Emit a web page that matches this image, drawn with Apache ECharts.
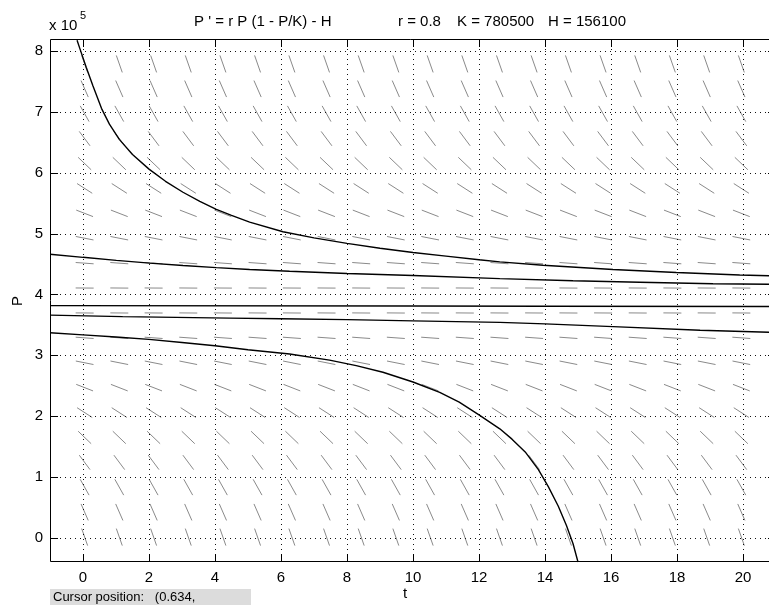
<!DOCTYPE html>
<html>
<head>
<meta charset="utf-8">
<script src="https://cdn.jsdelivr.net/npm/echarts@6/dist/echarts.min.js"></script>
<style>
  html, body { margin: 0; padding: 0; background: #fff; }
  #chart { width: 769px; height: 605px; }
</style>
</head>
<body>
<div id="chart"></div>
<script>
// ---- axis ticks ----
const xTicks = [0, 2, 4, 6, 8, 10, 12, 14, 16, 18, 20];
const yTicks = [0, 100000, 200000, 300000, 400000, 500000, 600000, 700000, 800000];
const xRange = [-1, 21];
const yRange = [-40000, 820000];

// ---- direction field sample points ----
const fieldT = [0.05, 1.1, 2.14, 3.19, 4.24, 5.29, 6.33, 7.38, 8.43, 9.48,
                10.52, 11.57, 12.62, 13.67, 14.71, 15.76, 16.81, 17.86, 18.9, 19.95];
const fieldP = [950, 41900, 82900, 123800, 164800, 205700, 246700, 287600, 328600, 369500,
                410500, 451400, 492400, 533300, 574300, 615200, 656200, 697100, 738100, 779000];
// slope dP/dt of each row of segments
const fieldSlope = [-155300, -124400, -96800, -72800, -52100, -34900, -21100, -10800, -3900, -400,
                    -400, -3900, -10700, -21000, -34800, -51800, -72500, -96500, -124000, -154900];

// ---- solution curves ----
const curveA = [[-0.18, 818000], [-0.1, 805000], [0.1, 773000], [0.3, 743000], [0.56, 706000],
  [0.8, 680000], [1.1, 655000], [1.5, 630000], [2.0, 606000], [2.5, 586000], [3.03, 568000],
  [3.54, 553000], [4.04, 540000], [4.5, 530000], [5.05, 519000], [6.06, 503000], [7, 493000],
  [8, 484000], [9, 476000], [10, 469000], [11, 463000], [12, 457000], [12.63, 453500],
  [13.94, 448000], [16.06, 441000], [17.98, 436000], [19.9, 432000], [21, 430500]];
const curveB = [[-1, 466000], [0, 461000], [1.01, 456000], [2.02, 451500], [3.03, 447500],
  [4.04, 444000], [5.05, 441000], [6.26, 438000], [8, 434500], [10, 431000], [12.63, 426000],
  [14.85, 422500], [16.87, 420000], [19.09, 417500], [21, 416500]];
const curveC = [[-1, 381500], [10, 381000], [14, 380500], [21, 380000]];
const curveD = [[-1, 366000], [1.2, 363500], [4.44, 361000], [6, 360000], [8, 358500],
  [10, 356500], [12.63, 354000], [14, 351500], [16.06, 347000], [18.7, 341000], [21, 337500]];
const curveE = [[-1, 337000], [0, 333500], [1, 330000], [2, 326000], [3, 321000],
  [4, 315500], [5, 309000], [6.26, 302000], [7.47, 292000], [8.28, 283000], [9.09, 272000],
  [10, 256000], [10.81, 239000], [11.4, 223000], [12.0, 202000], [12.63, 179000],
  [13.0, 162000], [13.4, 141000], [13.8, 112000], [14.1, 84000], [14.4, 52000],
  [14.65, 20000], [14.85, -10000], [15.0, -40000]];

const FONT = '"Liberation Sans", Arial, sans-serif';

const fieldData = [];
fieldP.forEach((p, j) => {
  fieldT.forEach(t => fieldData.push([t, p, fieldSlope[j]]));
});

const chart = echarts.init(document.getElementById('chart'), null, { renderer: 'canvas' });

const crisp = v => Math.round(v) + 0.5;

const option = {
  animation: false,
  backgroundColor: '#fff',
  grid: {
    left: 50, top: 39, width: 726, height: 523,
    show: false,
    outerBoundsMode: 'none',
    containLabel: false
  },
  xAxis: {
    type: 'value', min: xRange[0], max: xRange[1],
    axisLine: { show: false }, axisTick: { show: false }, splitLine: { show: false },
    axisLabel: {
      customValues: xTicks, margin: 8,
      color: '#000', fontSize: 15, fontFamily: FONT
    }
  },
  yAxis: {
    type: 'value', min: yRange[0], max: yRange[1],
    axisLine: { show: false }, axisTick: { show: false }, splitLine: { show: false },
    axisLabel: {
      customValues: yTicks, margin: 7,
      color: '#000', fontSize: 15, fontFamily: FONT,
      formatter: v => String(Math.round(v / 100000))
    }
  },
  graphic: [
    { type: 'text', left: 194, top: 14, style: { text: "P ' = r P (1 - P/K) - H", fontSize: 15, fontFamily: FONT, fill: '#000' } },
    { type: 'text', left: 398, top: 14, style: { text: 'r = 0.8', fontSize: 15, fontFamily: FONT, fill: '#000' } },
    { type: 'text', left: 457, top: 14, style: { text: 'K = 780500', fontSize: 15, fontFamily: FONT, fill: '#000' } },
    { type: 'text', left: 548, top: 14, style: { text: 'H = 156100', fontSize: 15, fontFamily: FONT, fill: '#000' } },
    { type: 'text', left: 49, top: 18, style: { text: 'x 10', fontSize: 15, fontFamily: FONT, fill: '#000' } },
    { type: 'text', left: 80, top: 10, style: { text: '5', fontSize: 11, fontFamily: FONT, fill: '#000' } },
    { type: 'text', x: 18, y: 301, rotation: Math.PI / 2,
      style: { text: 'P', fontSize: 15, fontFamily: FONT, fill: '#000', align: 'center', verticalAlign: 'middle' } },
    { type: 'text', x: 405, y: 594,
      style: { text: 't', fontSize: 15, fontFamily: FONT, fill: '#000', align: 'center', verticalAlign: 'middle' } },
    { type: 'rect', shape: { x: 50, y: 589, width: 201, height: 20 }, style: { fill: '#dcdcdc' }, z: -1 },
    { type: 'text', left: 53, top: 591, style: { text: 'Cursor position:   (0.634,', fontSize: 13, fontFamily: FONT, fill: '#000' } },
    // axes frame
    { type: 'rect', shape: { x: 50.5, y: 39.5, width: 726, height: 522 }, style: { fill: 'none', stroke: '#000', lineWidth: 1 }, z: 100 }
  ],
  series: [
    {
      // direction field
      type: 'custom', clip: true, z: 2,
      data: fieldData,
      renderItem: (params, api) => {
        const t = api.value(0), p = api.value(1), s = api.value(2);
        const c = api.coord([t, p]);
        const c2 = api.coord([t + 1, p + s]);
        let dx = c2[0] - c[0], dy = c2[1] - c[1];
        const len = Math.hypot(dx, dy) || 1;
        dx = dx / len * 9; dy = dy / len * 9;
        return {
          type: 'line',
          shape: { x1: c[0] - dx, y1: c[1] - dy, x2: c[0] + dx, y2: c[1] + dy },
          style: { stroke: '#8a8a8a', lineWidth: 1 }
        };
      }
    },
    {
      // vertical grid lines + ticks
      type: 'custom', z: 3,
      data: xTicks.map(v => [v]),
      renderItem: (params, api) => {
        const t = api.value(0);
        const top = api.coord([t, yRange[1]]);
        const bot = api.coord([t, yRange[0]]);
        const x = crisp(top[0]);
        return {
          type: 'group',
          children: [
            { type: 'line', shape: { x1: x, y1: top[1], x2: x, y2: bot[1] }, style: { stroke: '#111', lineWidth: 1, lineDash: [1, 4] } },
            { type: 'line', shape: { x1: x, y1: bot[1], x2: x, y2: bot[1] - 8 }, style: { stroke: '#000', lineWidth: 1 } },
            { type: 'line', shape: { x1: x, y1: top[1], x2: x, y2: top[1] + 8 }, style: { stroke: '#000', lineWidth: 1 } }
          ]
        };
      }
    },
    {
      // horizontal grid lines + ticks
      type: 'custom', z: 3,
      data: yTicks.map(v => [v]),
      renderItem: (params, api) => {
        const p = api.value(0);
        const l = api.coord([xRange[0], p]);
        const r = api.coord([xRange[1], p]);
        const y = crisp(l[1]);
        return {
          type: 'group',
          children: [
            { type: 'line', shape: { x1: l[0], y1: y, x2: r[0], y2: y }, style: { stroke: '#111', lineWidth: 1, lineDash: [1, 4] } },
            { type: 'line', shape: { x1: l[0], y1: y, x2: l[0] + 8, y2: y }, style: { stroke: '#000', lineWidth: 1 } },
            { type: 'line', shape: { x1: r[0], y1: y, x2: r[0] - 8, y2: y }, style: { stroke: '#000', lineWidth: 1 } }
          ]
        };
      }
    },
    ...[curveA, curveB, curveC, curveD, curveE].map(d => ({
      type: 'line', data: d, symbol: 'none', clip: true, z: 5,
      smooth: false,
      lineStyle: { color: '#000', width: 1.4 }
    }))
  ]
};

chart.setOption(option);
</script>
</body>
</html>
